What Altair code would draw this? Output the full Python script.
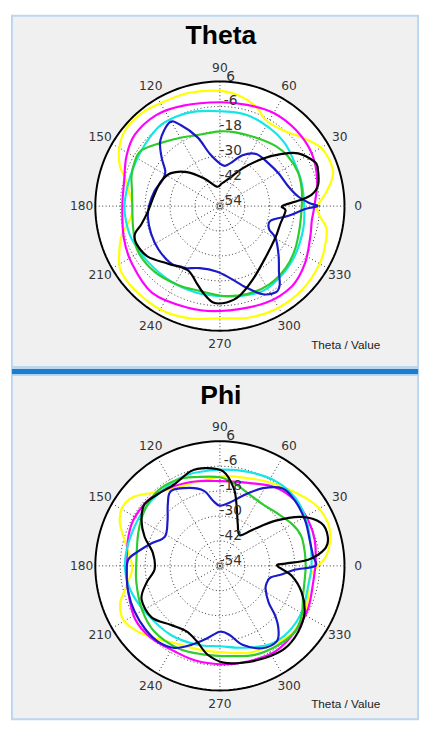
import altair as alt
import pandas as pd

# ---------------- radial axis ----------------
RMIN, RMAX = -54.0, 6.0
R_PX = 127.0
RTICKS = [6, -6, -18, -30, -42, -54]
GRID_VALUES = [-42, -30, -18, -6]
ANGLE_TICKS = [0, 30, 60, 90, 120, 150, 180, 210, 240, 270, 300, 330]
LABEL_R = 141.0

# ---------------- Theta panel data ----------------
TH_YELLOW_ANG = [0, 8, 17, 29, 39, 50, 62, 70, 80, 90, 105, 118, 130, 141, 150, 158, 163, 168, 175, 180, 188, 196, 204, 213, 225, 240, 255, 270, 285, 300, 315, 330, 340, 348, 355]
TH_YELLOW_VAL = [-7, -2, 3, 2.5, -2, -6.5, -7, -3, 0, 1.5, 2.5, 3, 4.5, 4.5, 2, -2, -6, -8.5, -11, -12, -10.5, -5, -1, 3, 3.5, 3.5, 2, 0, 1.5, 2.5, 2.5, 1.5, 0, -1.5, -6]

TH_MAGENTA_ANG = [0, 15, 30, 45, 60, 75, 90, 110, 125, 140, 152, 165, 180, 198, 213, 232, 252, 270, 295, 312, 326, 341, 351]
TH_MAGENTA_VAL = [-8.5, -5.5, -3, -2.2, -2.2, -3.5, -4, -2.5, -0.5, -0.5, -3, -6.3, -7, -5.3, -3.4, -1, -2.7, -3.5, -2.5, -2.1, -4.6, -8, -9.2]

TH_CYAN_ANG = [0, 16, 30, 44, 58, 74, 90, 104, 115, 128, 145, 162, 176, 186, 200, 218, 237, 255, 270, 282, 297, 312, 327, 345]
TH_CYAN_VAL = [-13.4, -13.1, -12.4, -10.5, -9.4, -8.2, -8.3, -7, -6.1, -5.8, -7.7, -8.5, -8.2, -8.1, -8.6, -10.2, -10.8, -10.8, -10.7, -9.7, -8.2, -9.4, -10.8, -12.4]

TH_GREEN_ANG = [0, 11, 23, 36, 47, 62, 78, 90, 105, 120, 134, 145, 153, 161, 170, 180, 195, 209, 225, 242, 257, 272, 287, 302, 317, 331, 346]
TH_GREEN_VAL = [-14.6, -13.8, -13, -13.4, -14.5, -16.7, -17.7, -18, -18.3, -16, -12, -7.5, -7.8, -9, -11, -11.8, -10.8, -8.9, -9.4, -11, -12, -10.7, -9.7, -9.4, -10.5, -12.4, -14.3]

TH_BLUE_ANG = [0, 2, 7, 16, 29, 41, 55, 66, 77, 86, 101, 108, 116, 121, 132, 140, 148, 157, 167, 179, 189, 202, 215, 229, 237, 242, 252, 267, 278, 288, 296, 303, 307, 312, 320, 330, 335, 344, 352, 358]
TH_BLUE_VAL = [-7, -11, -16, -19.7, -21.6, -22.8, -23.4, -27.2, -33, -34.3, -28.3, -19.2, -10.4, -7, -11.2, -17.3, -23, -23.5, -21.7, -20, -18.9, -18.3, -17.8, -17.7, -19.3, -20.1, -22.6, -22.5, -19, -12.7, -6.8, -4.5, -6.2, -11.5, -17.1, -23, -27.9, -28.6, -20.6, -13]

TH_BLACK_ANG = [0, 4, 7, 12, 21, 25, 34, 40, 48, 59, 71, 85, 99, 120, 134, 146, 157, 170, 184, 193, 198, 204, 215, 228, 243, 253, 259, 266, 274, 282, 294, 312, 331, 343, 356]
TH_BLACK_VAL = [-24, -16, -9.6, -5.7, -3.5, -3.6, -8.6, -14.9, -23.3, -32.8, -39.8, -43, -44.5, -38.5, -31.2, -25.6, -23.3, -22, -19.3, -15.2, -11, -9.9, -11.6, -16.7, -19.5, -15.4, -11.5, -7.5, -7.5, -9.6, -15.2, -21, -23.3, -23.7, -22.3]

# ---------------- Phi panel data ----------------
PH_YELLOW_ANG = [0, 5, 13, 22, 33, 47, 63, 82, 90, 106, 119, 131, 141, 149, 157, 168, 181, 190, 194, 201, 210, 223, 240, 257, 272, 288, 302, 316, 327, 338, 352]
PH_YELLOW_VAL = [-6.8, -2.7, 0.5, 2, 0.5, -4.2, -8, -10.5, -11, -12, -11, -7, -1, 0.8, -1.7, -8, -11.8, -9, -7, -2.5, -0.8, -5, -11, -12.5, -12.3, -10, -8.5, -6.5, -7, -8.5, -10.5]

PH_MAGENTA_ANG = [2, 15, 27, 41, 55, 70, 90, 105, 120, 135, 150, 162, 180, 196, 212, 226, 242, 256, 272, 287, 303, 319, 334, 350]
PH_MAGENTA_VAL = [-7.9, -6.7, -6.2, -6.1, -7.8, -11.6, -13.2, -11.8, -9.7, -7.4, -6.8, -7.7, -9.1, -8.1, -5.8, -6, -7.4, -6.9, -6.6, -6, -4.9, -5.9, -6.8, -8.4]

PH_CYAN_ANG = [0, 14, 28, 42, 57, 74, 90, 110, 128, 146, 166, 182, 197, 214, 235, 254, 270, 286, 302, 316, 331, 347]
PH_CYAN_VAL = [-9.9, -9, -6.9, -5.1, -5.2, -6.8, -7.7, -7.4, -8.2, -8.6, -8.6, -8.3, -9.6, -12, -13.2, -14.5, -15.3, -13, -9.3, -8.2, -8.8, -10.4]

PH_GREEN_ANG = [0, 9, 20, 30, 44, 55, 68, 79, 90, 104, 116, 130, 144, 158, 176, 191, 209, 225, 243, 259, 276, 292, 307, 319, 329, 340, 353]
PH_GREEN_VAL = [-12.7, -12.6, -12.3, -13.8, -16.8, -17.9, -16.7, -14, -11.3, -9.9, -7.7, -7.1, -9, -11.6, -13.7, -13, -11, -9.3, -9.5, -10.6, -10.3, -7.9, -6.6, -6, -8, -11.4, -12.7]

PH_BLUE_ANG = [0, 6, 16, 28, 41, 51, 61, 70, 81, 90, 96, 102, 111, 123, 130, 139, 152, 162, 170, 176, 184, 196, 208, 220, 231, 241, 250, 260, 270, 278, 286, 297, 307, 313, 318, 323, 333, 340, 347, 352, 357]
PH_BLUE_VAL = [-8, -8.9, -9, -7.5, -6.1, -6, -11.2, -17.3, -23.1, -25, -22.5, -17.1, -13.8, -10.9, -15, -20.6, -24, -19.2, -14, -9.8, -9, -8.1, -7.4, -6.9, -6.9, -8.8, -13.5, -18.6, -22.3, -20.4, -14.5, -9.5, -8.5, -12.7, -18.2, -24.6, -29.3, -30, -29, -24, -18]

PH_BLACK_ANG = [0, 2, 4, 9, 15, 23, 31, 39, 48, 57, 67, 75, 80, 88, 98, 107, 119, 131, 141, 150, 159, 169, 183, 193, 203, 217, 230, 243, 253, 262, 272, 283, 296, 308, 320, 331, 342, 352]
PH_BLACK_VAL = [-26.4, -22.5, -11.4, -3, -0.2, -1.1, -8.2, -19.4, -30.7, -36.4, -32, -23.2, -15.9, -8.5, -6.5, -6.3, -9, -8.3, -7.1, -10.4, -15.2, -21.1, -22.5, -17.7, -13, -12.8, -17, -18.6, -16, -10.9, -7.4, -6.1, -4.6, -3.4, -4.7, -7.4, -12.6, -19]

COLORS = {"yellow": "#ffff00", "magenta": "#ff00ff", "cyan": "#14e6e6",
          "green": "#2ccc2c", "blue": "#1a1ac8", "black": "#000000"}

THETA_SERIES = [("yellow", TH_YELLOW_ANG, TH_YELLOW_VAL), ("magenta", TH_MAGENTA_ANG, TH_MAGENTA_VAL),
                ("cyan", TH_CYAN_ANG, TH_CYAN_VAL), ("green", TH_GREEN_ANG, TH_GREEN_VAL),
                ("blue", TH_BLUE_ANG, TH_BLUE_VAL), ("black", TH_BLACK_ANG, TH_BLACK_VAL)]
PHI_SERIES = [("yellow", PH_YELLOW_ANG, PH_YELLOW_VAL), ("magenta", PH_MAGENTA_ANG, PH_MAGENTA_VAL),
              ("cyan", PH_CYAN_ANG, PH_CYAN_VAL), ("green", PH_GREEN_ANG, PH_GREEN_VAL),
              ("blue", PH_BLUE_ANG, PH_BLUE_VAL), ("black", PH_BLACK_ANG, PH_BLACK_VAL)]

W = 414
CX = 212


def polar(ch):
    return ch.transform_calculate(
        r=f"{R_PX}*(max(datum.value,{RMIN})-({RMIN}))/({RMAX}-({RMIN}))"
    ).transform_calculate(
        x="datum.r*cos(datum.angle*PI/180)",
        y="datum.r*sin(datum.angle*PI/180)",
    )


def panel(title, series, height, cy, title_y, note_y, top_bar):
    xs = alt.Scale(domain=[-CX, W - CX], nice=False, zero=False)
    ys = alt.Scale(domain=[cy - height, cy], nice=False, zero=False)
    X = alt.X("x:Q", scale=xs, axis=None)
    Y = alt.Y("y:Q", scale=ys, axis=None)
    layers = []

    disk = polar(alt.Chart(pd.DataFrame({"angle": [0], "value": [RMIN]}))).mark_point(
        shape="circle", filled=True, size=(2 * R_PX) ** 2, color="white", opacity=1
    ).encode(x=X, y=Y)
    layers.append(disk)

    grid_rows = [{"g": g, "angle": a, "value": g} for g in GRID_VALUES for a in range(0, 361, 3)]
    grid = polar(alt.Chart(pd.DataFrame(grid_rows))).mark_line(
        color="#333333", strokeWidth=1, strokeDash=[1, 2.5]
    ).encode(x=X, y=Y, detail="g:N", order="angle:Q")
    layers.append(grid)

    spoke_rows = [{"angle": a, "value": v} for a in ANGLE_TICKS for v in (RMIN, RMAX)]
    spokes = polar(alt.Chart(pd.DataFrame(spoke_rows))).mark_line(
        color="#333333", strokeWidth=1, strokeDash=[1, 2.5]
    ).encode(x=X, y=Y, detail="angle:N", order="value:Q")
    layers.append(spokes)

    outer_rows = [{"angle": a, "value": RMAX} for a in range(0, 361, 2)]
    outer = polar(alt.Chart(pd.DataFrame(outer_rows))).mark_line(
        color="#000000", strokeWidth=2
    ).encode(x=X, y=Y, order="angle:Q")
    layers.append(outer)

    center = polar(alt.Chart(pd.DataFrame({"angle": [0], "value": [RMIN]}))).mark_point(
        shape="square", filled=False, size=22, color="#222222", strokeWidth=1
    ).encode(x=X, y=Y)
    layers.append(center)

    for name, ang, val in series:
        df = pd.DataFrame({"angle": ang, "value": val})
        ln = polar(alt.Chart(df)).mark_line(
            color=COLORS[name], strokeWidth=2.2, interpolate="cardinal-closed"
        ).encode(x=X, y=Y, order="angle:Q")
        layers.append(ln)

    alab = alt.Chart(pd.DataFrame({"angle": ANGLE_TICKS, "label": [str(a) for a in ANGLE_TICKS]})).transform_calculate(
        x=f"{LABEL_R}*cos(datum.angle*PI/180)",
        y=f"{LABEL_R}*sin(datum.angle*PI/180)",
    ).mark_text(font="DejaVu Sans", fontSize=12.5, color="#333333", align="center", baseline="middle").encode(
        x=X, y=Y, text="label:N"
    )
    layers.append(alab)

    rlab = alt.Chart(pd.DataFrame({"value": RTICKS, "label": [str(v) for v in RTICKS]})).transform_calculate(
        r=f"{R_PX}*(datum.value-({RMIN}))/({RMAX}-({RMIN}))"
    ).transform_calculate(
        x="11", y="datum.r+5"
    ).mark_text(font="DejaVu Sans", fontSize=14, color="#333333", align="center", baseline="middle").encode(
        x=X, y=Y, text="label:N"
    )
    layers.append(rlab)

    t = alt.Chart(pd.DataFrame({"t": [title]})).mark_text(
        font="Liberation Sans", fontSize=27, fontWeight="bold", color="#000000", align="center", baseline="alphabetic"
    ).encode(x=alt.value(213), y=alt.value(title_y), text="t:N")
    layers.append(t)

    note = alt.Chart(pd.DataFrame({"t": ["Theta / Value"]})).mark_text(
        font="Liberation Sans", fontSize=12, color="#222222", align="left", baseline="alphabetic"
    ).encode(x=alt.value(305), y=alt.value(note_y), text="t:N")
    layers.append(note)

    if top_bar:
        bar = alt.Chart(pd.DataFrame({"k": [0]})).mark_rule(color="#1b7dcc", strokeWidth=5).encode(
            x=alt.value(0), x2=alt.value(W), y=alt.value(2.5)
        )
        bar2 = alt.Chart(pd.DataFrame({"k": [0]})).mark_rule(color="#a9d0f2", strokeWidth=2).encode(
            x=alt.value(0), x2=alt.value(W), y=alt.value(6)
        )
        layers += [bar, bar2]

    return alt.layer(*layers).properties(
        width=W, height=height,
        view=alt.ViewBackground(fill="#f0f0f0", stroke="#bcd6ef", strokeWidth=2),
    )


p1 = panel("Theta", THETA_SERIES, 358, 194, 29, 340, False)
p2 = panel("Phi", PHI_SERIES, 357, 200.7, 36, 346, True)

chart = alt.vconcat(p1, p2, spacing=0).resolve_scale(x="independent", y="independent").properties(
    padding=0, background="white"
)

chart.save("out.html", embed_options={"renderer": "svg", "actions": False})
